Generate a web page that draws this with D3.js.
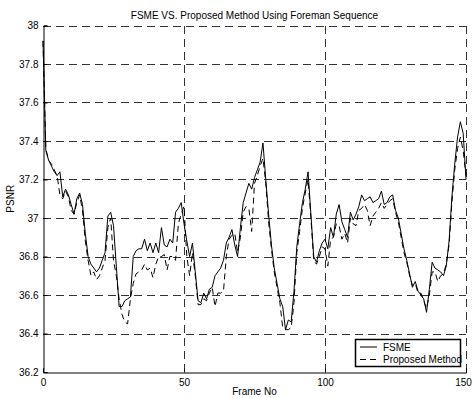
<!DOCTYPE html>
<html><head><meta charset="utf-8">
<script src="https://cdn.jsdelivr.net/npm/d3@7"></script>
<style>body{margin:0;background:#fff;} text{font-family:"Liberation Sans",Arial,sans-serif;}</style>
</head><body>
<svg id="chart" width="473" height="398"></svg>
<script>
const title = "FSME VS. Proposed Method Using Foreman Sequence";
const xLabel = "Frame No";
const yLabel = "PSNR";
const seriesNames = ["FSME", "Proposed Method"];
const xTicks = [0, 50, 100, 150];
const yTicks = [36.2, 36.4, 36.6, 36.8, 37, 37.2, 37.4, 37.6, 37.8, 38];

const fsme = [
37.92,37.35,37.30,37.27,37.24,37.22,37.24,37.11,37.15,37.12,
37.07,37.02,37.10,37.13,37.07,36.92,36.80,36.76,36.74,36.72,
36.74,36.78,36.82,37.01,37.03,36.96,36.75,36.54,36.54,36.57,
36.58,36.59,36.80,36.83,36.84,36.84,36.89,36.83,36.87,36.82,
36.87,36.82,36.95,36.86,36.85,36.89,36.87,37.03,37.05,37.08,
36.97,36.88,36.80,36.87,36.72,36.57,36.56,36.61,36.58,36.63,
36.64,36.70,36.72,36.74,36.78,36.87,36.90,36.94,36.86,36.80,
36.95,37.08,37.13,37.18,37.15,37.21,37.25,37.29,37.39,37.20,
37.02,36.86,36.74,36.66,36.58,36.54,36.42,36.47,36.46,36.62,
36.85,36.97,37.08,37.15,37.24,37.02,36.80,36.77,36.83,36.87,
36.89,36.84,36.95,36.90,37.02,37.07,36.98,36.94,36.90,37.03,
36.99,37.02,37.06,37.12,37.09,37.10,37.11,37.08,37.09,37.10,
37.14,37.07,37.08,37.11,37.12,37.04,37.00,36.92,36.84,36.78,
36.71,36.64,36.67,36.62,36.60,36.58,36.51,36.63,36.77,36.74,
36.73,36.72,36.70,36.75,36.88,37.11,37.28,37.42,37.50,37.44,
37.20];

const proposed = [
37.92,37.36,37.30,37.28,37.25,37.22,37.12,37.10,37.14,37.11,
37.04,37.02,37.08,37.12,37.04,36.88,36.78,36.70,36.72,36.68,
36.70,36.74,36.78,36.95,37.00,36.78,36.70,36.58,36.50,36.46,
36.45,36.58,36.66,36.71,36.72,36.73,36.76,36.73,36.74,36.69,
36.76,36.80,36.80,36.81,36.73,36.80,36.80,36.78,36.97,37.02,
37.06,36.80,36.70,36.82,36.70,36.55,36.55,36.58,36.57,36.61,
36.64,36.54,36.61,36.61,36.62,36.80,36.89,36.91,36.92,36.82,
36.90,37.03,37.06,37.05,36.93,37.18,37.22,37.27,37.31,37.18,
36.98,36.84,36.72,36.64,36.56,36.43,36.42,36.42,36.43,36.56,
36.82,36.93,37.05,37.13,37.20,37.00,36.78,36.76,36.80,36.85,
36.84,36.75,36.89,36.90,36.97,36.96,36.89,36.92,36.87,37.00,
36.97,36.96,37.04,37.05,37.07,37.04,36.96,37.01,37.03,37.05,
37.08,37.05,37.07,37.09,37.10,37.03,36.98,36.90,36.82,36.77,
36.70,36.65,36.66,36.61,36.61,36.57,36.53,36.60,36.72,36.72,
36.67,36.70,36.71,36.76,36.86,37.08,37.25,37.36,37.42,37.35,
37.22];

const svg = d3.select("#chart");
const m = {left:43, right:466, top:25.5, bottom:372};
const x = d3.scaleLinear().domain([0,150]).range([m.left, m.right]);
const y = d3.scaleLinear().domain([36.2,38]).range([m.bottom, m.top]);

// grid
const g = svg.append("g");
g.selectAll(".hg").data(yTicks.filter(v=>v>36.2)).enter().append("line")
  .attr("x1", m.left).attr("x2", m.right)
  .attr("y1", d=>Math.round(y(d))+0.5).attr("y2", d=>Math.round(y(d))+0.5)
  .attr("stroke","#333").attr("stroke-dasharray","8,5").attr("stroke-width",1);
g.selectAll(".vg").data(xTicks.filter(v=>v>0)).enter().append("line")
  .attr("y1", m.bottom).attr("y2", m.top)
  .attr("x1", d=>Math.round(x(d))+0.5).attr("x2", d=>Math.round(x(d))+0.5)
  .attr("stroke","#333").attr("stroke-dasharray","8,5").attr("stroke-width",1);

// axes
const yAxis = d3.axisLeft(y).tickValues(yTicks).tickSize(-4).tickPadding(5)
  .tickFormat(d=>d3.format("~g")(d));
const xAxis = d3.axisBottom(x).tickValues(xTicks).tickSize(-4).tickPadding(6);
const ya = svg.append("g").attr("transform",`translate(${m.left+0.5},0)`).call(yAxis);
const xa = svg.append("g").attr("transform",`translate(0,${m.bottom+0.5})`).call(xAxis);
[ya,xa].forEach(a=>{
  a.select(".domain").attr("stroke","#000");
  a.selectAll(".tick line").attr("stroke","#000");
  a.selectAll("text").attr("font-size","10px").attr("fill","#000")
    .attr("font-family","'Liberation Sans',Arial,sans-serif");
});
// keep last x tick label inside the page
xa.selectAll(".tick text").filter(d=>d===150).attr("dx","-3");

// lines
const line = d3.line().x((d,i)=>x(i)).y(d=>y(d));
svg.append("path").datum(fsme).attr("d",line).attr("fill","none")
  .attr("stroke","#000").attr("stroke-width",1);
svg.append("path").datum(proposed).attr("d",line).attr("fill","none")
  .attr("stroke","#000").attr("stroke-width",1).attr("stroke-dasharray","6,4");

// labels
svg.append("text").attr("x",(m.left+m.right)/2).attr("y",19).attr("text-anchor","middle")
  .attr("font-size","10px").text(title);
svg.append("text").attr("x",(m.left+m.right)/2).attr("y",395).attr("text-anchor","middle")
  .attr("font-size","10px").text(xLabel);
svg.append("text").attr("transform",`translate(14,${(m.top+m.bottom)/2}) rotate(-90)`)
  .attr("text-anchor","middle").attr("font-size","10px").text(yLabel);

// legend
const lg = svg.append("g");
lg.append("rect").attr("x",355.5).attr("y",339.5).attr("width",105).attr("height",27)
  .attr("fill","#fff").attr("stroke","#000").attr("stroke-width",1.5);
const dashes = [null,"6,4"];
seriesNames.forEach((n,i)=>{
  const yy = 347 + i*12.5;
  lg.append("line").attr("x1",360).attr("x2",377).attr("y1",yy).attr("y2",yy)
    .attr("stroke","#000").attr("stroke-width",1).attr("stroke-dasharray",dashes[i]);
  lg.append("text").attr("x",383).attr("y",yy+3.5).attr("font-size","10px").text(n);
});
</script>
</body></html>
